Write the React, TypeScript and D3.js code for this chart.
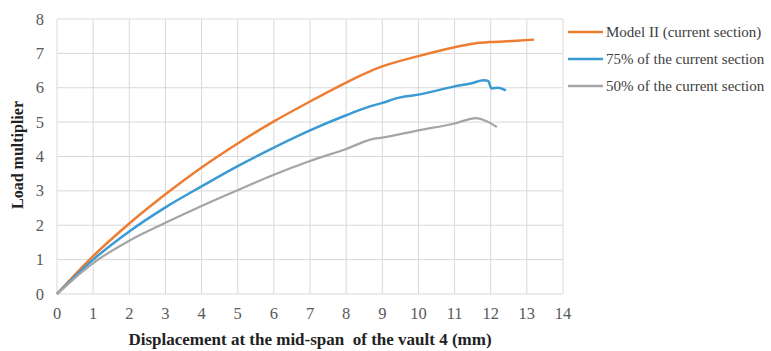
import React from "react";
import * as d3 from "d3";

const xTicks = [0, 1, 2, 3, 4, 5, 6, 7, 8, 9, 10, 11, 12, 13, 14];
const yTicks = [0, 1, 2, 3, 4, 5, 6, 7, 8];

const seriesNames = ["Model II (current section)", "75% of the current section", "50% of the current section"];
const seriesColors = ["#ED7D31", "#3A9AD4", "#A5A5A5"];

const modelX = [0, 1, 2, 3, 4, 5, 6, 7, 8, 8.7, 9, 10, 11, 11.5, 12, 12.6, 13.2];
const modelY = [0, 1.1, 2.05, 2.9, 3.68, 4.38, 5.02, 5.6, 6.15, 6.5, 6.62, 6.92, 7.18, 7.28, 7.33, 7.36, 7.4];

const s75X = [0, 1, 2, 3, 4, 5, 6, 7, 8, 8.5, 9, 9.5, 10, 11, 11.5, 11.8, 11.93, 12.02, 12.2, 12.42];
const s75Y = [0, 1.0, 1.82, 2.52, 3.13, 3.72, 4.26, 4.76, 5.2, 5.4, 5.56, 5.72, 5.8, 6.04, 6.14, 6.22, 6.2, 5.98, 6.0, 5.92];

const s50X = [0, 1, 2, 3, 4, 5, 6, 7, 8, 8.7, 9, 10, 11, 11.6, 11.9, 12.17];
const s50Y = [0, 0.9, 1.55, 2.07, 2.56, 3.02, 3.47, 3.87, 4.22, 4.5, 4.55, 4.76, 4.96, 5.12, 5.02, 4.86];

const seriesX = [modelX, s75X, s50X];
const seriesY = [modelY, s75Y, s50Y];

export default function App() {
  const W = 771, H = 351;
  const left = 57, right = 563, top = 19, bottom = 294;
  const x = d3.scaleLinear().domain([0, 14]).range([left, right]);
  const y = d3.scaleLinear().domain([0, 8]).range([bottom, top]);
  const line = d3.line<[number, number]>().x(d => x(d[0])).y(d => y(d[1])).curve(d3.curveMonotoneX);
  const font = "'Liberation Serif', 'Times New Roman', serif";

  return (
    <svg width={W} height={H} style={{ position: "absolute", left: 0, top: 0, background: "#fff" }} fontFamily={font}>
      {xTicks.map(t => (
        <line key={"gx" + t} x1={x(t)} x2={x(t)} y1={top} y2={bottom} stroke="#D9D9D9" strokeWidth={1} />
      ))}
      {yTicks.map(t => (
        <line key={"gy" + t} x1={left} x2={right} y1={y(t)} y2={y(t)} stroke="#D9D9D9" strokeWidth={1} />
      ))}
      {xTicks.map(t => (
        <text key={"tx" + t} x={x(t)} y={319} textAnchor="middle" fontSize={16.5} fill="#595959">{t}</text>
      ))}
      {yTicks.map(t => (
        <text key={"ty" + t} x={44} y={y(t) + 5.5} textAnchor="end" fontSize={16.5} fill="#595959">{t}</text>
      ))}
      {seriesX.map((xs, i) => (
        <path key={"s" + i} d={line(xs.map((v, j) => [v, seriesY[i][j]] as [number, number])) || ""}
          fill="none" stroke={seriesColors[i]} strokeWidth={i === 2 ? 2.25 : 2.5} strokeLinejoin="round" />
      ))}
      <text x={(left + right) / 2} y={345} textAnchor="middle" fontSize={17} fontWeight="bold" fill="#222" style={{ whiteSpace: "pre" }}>
        {"Displacement at the mid-span  of the vault 4 (mm)"}
      </text>
      <text transform={`translate(23, 155) rotate(-90)`} textAnchor="middle" fontSize={16} fontWeight="bold" fill="#222">
        Load multiplier
      </text>
      {seriesNames.map((n, i) => (
        <g key={"lg" + i}>
          <line x1={568} x2={603} y1={32 + i * 27} y2={32 + i * 27} stroke={seriesColors[i]} strokeWidth={2.5} />
          <text x={606} y={37 + i * 27} fontSize={15} fill="#404040">{n}</text>
        </g>
      ))}
    </svg>
  );
}
